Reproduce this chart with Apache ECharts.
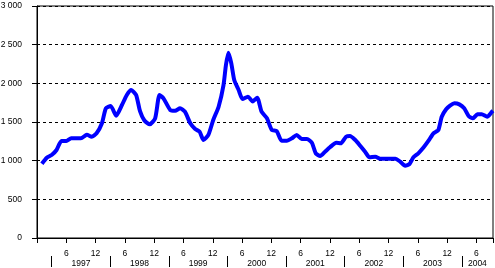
<!DOCTYPE html>
<html>
<head>
<meta charset="utf-8">
<script src="https://cdn.jsdelivr.net/npm/echarts@6/dist/echarts.min.js"></script>
<style>
html,body{margin:0;padding:0;background:#fff;}
#c{width:495px;height:268px;}
</style>
</head>
<body>
<div id="c"></div>
<script>
// month index: 1 = Jan 1997
var months = [1.0,2.0,3.0,4.0,5.0,6.0,7.0,9.0,10.2,11.2,12.2,13.3,14.1,15.1,16.2,17.4,18.4,19.3,20.3,21.1,22.0,23.1,24.2,25.1,25.9,27.3,28.3,29.3,30.3,31.4,32.4,33.3,34.1,35.1,36.1,37.2,38.2,38.7,39.2,39.8,40.4,41.3,42.1,43.2,44.2,45.1,46.0,47.1,48.1,49.1,50.1,51.2,52.2,53.2,54.2,55.3,56.3,57.1,58.0,59.0,60.0,61.3,62.2,63.3,64.1,65.2,66.2,67.2,68.1,69.3,70.3,73.4,74.4,75.4,76.3,77.1,78.1,79.2,80.2,81.2,82.2,82.9,83.8,84.6,85.5,86.5,87.5,88.4,89.3,90.2,91.1,92.2,93.2,93.4];
var values = [960,1038,1073,1138,1254,1254,1289,1289,1336,1310,1354,1483,1677,1707,1581,1720,1849,1914,1849,1640,1520,1470,1548,1849,1806,1655,1646,1677,1633,1483,1409,1375,1267,1332,1526,1698,1978,2237,2396,2259,2043,1914,1797,1827,1766,1814,1633,1548,1396,1383,1258,1258,1289,1332,1280,1280,1232,1095,1060,1116,1173,1232,1224,1310,1319,1267,1193,1116,1043,1051,1025,1025,987,935,957,1043,1095,1173,1258,1354,1396,1568,1664,1711,1741,1728,1677,1578,1548,1599,1599,1568,1633,1645];
var monthTicks = [6,12,18,24,30,36,42,48,54,60,66,72,78,84,90];
var yearSeparators = [3,15,27,39,51,63,75,87];
var yearLabelPos = [9,21,33,45,57,69,81,90.2];
var yearLabels = ['1997','1998','1999','2000','2001','2002','2003','2004'];

var FONT = '"Liberation Sans", Arial, sans-serif';
var FS = 8.5;
var chart = echarts.init(document.getElementById('c'), null, {renderer:'canvas'});
var data = months.map(function(m,i){return [m, values[i]];});

chart.setOption({
  animation:false,
  grid:{left:37, top:6, right:2, bottom:30, outerBoundsMode:'none', containLabel:false,
        show:true, borderColor:'#000', borderWidth:1, backgroundColor:'transparent'},
  xAxis:[{
    type:'value', min:0, max:93.4, interval:6,
    axisLine:{show:true, onZero:false, lineStyle:{color:'#000', width:1}},
    axisTick:{show:true, length:5, lineStyle:{color:'#000'}},
    splitLine:{show:false},
    axisLabel:{customValues:monthTicks, margin:11, color:'#000', fontFamily:FONT, fontSize:FS,
      formatter:function(v){return (Math.round(v)%12===0)?'12':'6';}}
  },{
    type:'value', min:0, max:93.4, position:'bottom', offset:18,
    axisLine:{show:true, onZero:false, lineStyle:{color:'#000', width:1, opacity:0}},
    axisTick:{show:true, customValues:yearSeparators, length:11, lineStyle:{color:'#000', width:1}},
    splitLine:{show:false},
    axisLabel:{customValues:yearLabelPos, margin:3, color:'#000', fontFamily:FONT, fontSize:FS,
      formatter:function(v){var i=yearLabelPos.indexOf(v);return i>=0?yearLabels[i]:'';}}
  }],
  yAxis:{
    type:'value', min:0, max:3000, interval:500,
    axisLine:{show:true, lineStyle:{color:'#000', width:1}},
    axisTick:{show:true, length:5, lineStyle:{color:'#000'}},
    splitLine:{show:true, lineStyle:{color:'#000', type:[3,3], width:1}},
    axisLabel:{margin:15, color:'#000', fontFamily:FONT, fontSize:FS,
      formatter:function(v){
        if(v>=1000){var r=v%1000;return Math.floor(v/1000)+' '+(r<10?'00':r<100?'0':'')+r;}
        return String(v);
      }}
  },
  series:[{
    type:'line', xAxisIndex:0, data:data, showSymbol:false, symbol:'none',
    lineStyle:{color:'#0000FF', width:4, join:'round'}, smooth:0.2
  }]
});
</script>
</body>
</html>
